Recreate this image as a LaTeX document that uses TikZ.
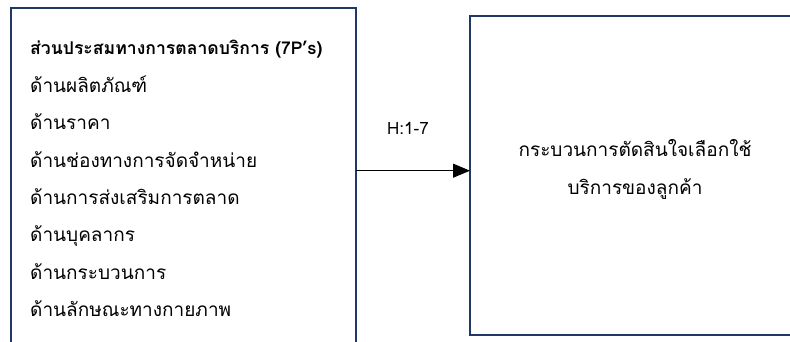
\documentclass[tikz,border=0pt]{standalone}
\usepackage{fontspec}
\setmainfont[Script=Thai]{Loma}
\usetikzlibrary{arrows.meta}
\definecolor{boxblue}{HTML}{1F3864}
\tikzset{
  framebox/.style={draw=boxblue, line width=2pt, fill=white, inner sep=0pt, outer sep=0pt},
  itemtext/.style={anchor=base west, inner sep=0pt, font=\fontsize{19}{22}\selectfont},
  centertext/.style={anchor=base, inner sep=0pt, font=\fontsize{19}{22}\selectfont},
  connector/.style={line width=1pt, -{Triangle[length=17pt,width=14pt]}}
}
\begin{document}
\begin{tikzpicture}[x=1pt,y=1pt]
\useasboundingbox (0,0) rectangle (790,342);
\clip (0,0) rectangle (790,342);
\fill[white] (0,0) rectangle (790,342);
% boxes
\node[framebox, minimum width=345pt, minimum height=360pt, anchor=north west] (L) at (11,334) {};
\node[framebox, minimum width=340pt, minimum height=319pt, anchor=north west] (R) at (470,326) {};
% left texts
\node[itemtext, font=\fontsize{17.6}{21}\selectfont\bfseries] (t0) at (30,287) {ส่วนประสมทางการตลาดบริการ (7P’s)};
\node[itemtext] (t1) at (30,249.6) {ด้านผลิตภัณฑ์};
\node[itemtext] (t2) at (30,212.2) {ด้านราคา};
\node[itemtext] (t3) at (30,174.8) {ด้านช่องทางการจัดจำหน่าย};
\node[itemtext] (t4) at (30,137.4) {ด้านการส่งเสริมการตลาด};
\node[itemtext] (t5) at (30,100.0) {ด้านบุคลากร};
\node[itemtext] (t6) at (30,62.6) {ด้านกระบวนการ};
\node[itemtext] (t7) at (30,25.2) {ด้านลักษณะทางกายภาพ};
% right texts
\node[centertext] (r1) at (635,185) {กระบวนการตัดสินใจเลือกใช้};
\node[centertext] (r2) at (635,147) {บริการของลูกค้า};
% connector
\coordinate (ay) at (0,171.3);
\draw[connector] (ay -| L.east) -- (ay -| R.west);
\node[centertext, font=\fontsize{17}{20}\selectfont] (h) at (408,207) {H:1-7};
\end{tikzpicture}
\end{document}
